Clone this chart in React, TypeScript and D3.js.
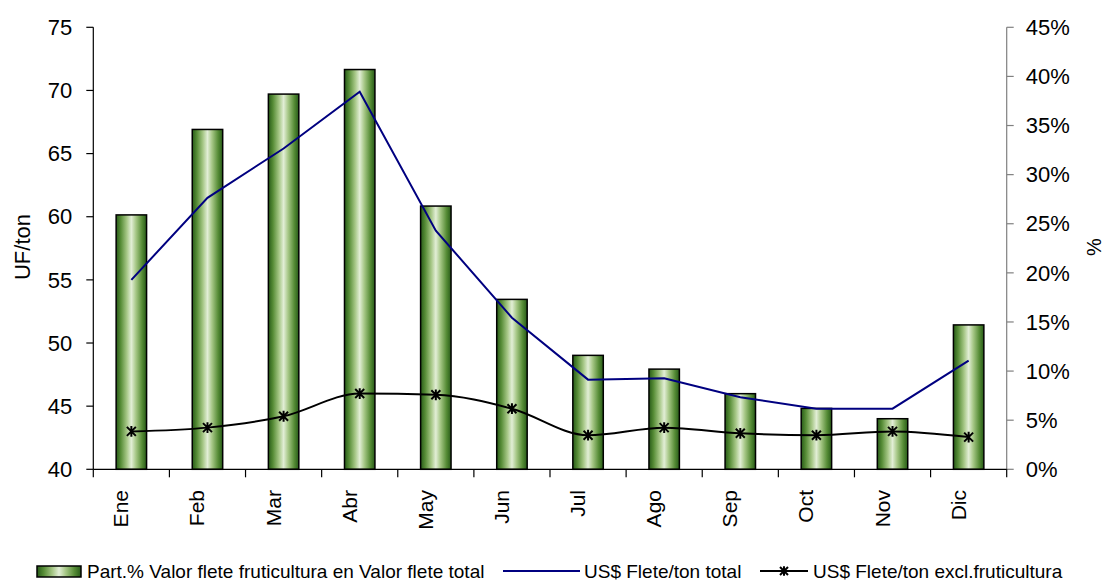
import { useEffect, useRef } from "react";
import * as d3 from "d3";

const months = ["Ene", "Feb", "Mar", "Abr", "May", "Jun", "Jul", "Ago", "Sep", "Oct", "Nov", "Dic"];
// Part.% (right axis, %)
const partPct = [25.9, 34.6, 38.2, 40.7, 26.8, 17.3, 11.6, 10.2, 7.7, 6.2, 5.15, 14.7];
// left axis, UF/ton
const fleteTotal = [55.0, 61.5, 65.4, 69.9, 58.9, 52.0, 47.1, 47.2, 45.7, 44.8, 44.8, 48.6];
const fleteExcl = [43.0, 43.3, 44.2, 46.0, 45.9, 44.8, 42.7, 43.3, 42.85, 42.7, 43.0, 42.55];
const leftTicks = [40, 45, 50, 55, 60, 65, 70, 75];
const rightTicks = [0, 5, 10, 15, 20, 25, 30, 35, 40, 45];

const W = 1106;
const H = 582;
const FONT = "'Liberation Sans', Arial, sans-serif";

export default function App() {
  const svgRef = useRef<SVGSVGElement | null>(null);

  useEffect(() => {
    if (!svgRef.current) return;
    const svg = d3.select(svgRef.current);
    svg.selectAll("*").remove();

    const left = 93.3;
    const right = 1006.7;
    const top = 27.3;
    const bottom = 469.3;

    const x = d3.scaleBand<string>().domain(months).range([left, right]).paddingInner(0).paddingOuter(0);
    const yL = d3.scaleLinear().domain([40, 75]).range([bottom, top]);
    const yR = d3.scaleLinear().domain([0, 45]).range([bottom, top]);
    const bw = x.bandwidth() * 0.4;
    const cx = (m: string) => (x(m) as number) + x.bandwidth() / 2;

    const defs = svg.append("defs");
    const grad = defs.append("linearGradient").attr("id", "barGrad").attr("x1", 0).attr("x2", 1).attr("y1", 0).attr("y2", 0);
    [
      [0, "#275a18"],
      [0.15, "#568c36"],
      [0.35, "#a6c786"],
      [0.5, "#e2eed6"],
      [0.65, "#a6c786"],
      [0.85, "#568c36"],
      [1, "#275a18"],
    ].forEach(([o, c]) => grad.append("stop").attr("offset", o as number).attr("stop-color", c as string));

    // bars
    svg
      .append("g")
      .selectAll("rect")
      .data(months)
      .join("rect")
      .attr("x", (m) => cx(m) - bw / 2)
      .attr("width", bw)
      .attr("y", (_, i) => yR(partPct[i]))
      .attr("height", (_, i) => bottom - yR(partPct[i]))
      .attr("fill", "url(#barGrad)")
      .attr("stroke", "#000")
      .attr("stroke-width", 1.5);

    // blue line
    const lineTotal = d3
      .line<number>()
      .x((_, i) => cx(months[i]))
      .y((d) => yL(d));
    svg
      .append("path")
      .attr("d", lineTotal(fleteTotal)!)
      .attr("fill", "none")
      .attr("stroke", "#000080")
      .attr("stroke-width", 2);

    // black smoothed line
    const lineExcl = d3
      .line<number>()
      .x((_, i) => cx(months[i]))
      .y((d) => yL(d))
      .curve(d3.curveMonotoneX);
    svg
      .append("path")
      .attr("d", lineExcl(fleteExcl)!)
      .attr("fill", "none")
      .attr("stroke", "#000")
      .attr("stroke-width", 2);

    const star = (g: any, px: number, py: number, r: number) => {
      const p = `M${px - r},${py - r}L${px + r},${py + r}M${px - r},${py + r}L${px + r},${py - r}M${px},${py - r * 1.2}L${px},${py + r * 1.2}`;
      g.append("path").attr("d", p).attr("stroke", "#000").attr("stroke-width", 2).attr("fill", "none");
    };
    const markers = svg.append("g");
    fleteExcl.forEach((v, i) => star(markers, cx(months[i]), yL(v), 4.5));

    // left axis
    const gL = svg.append("g").attr("transform", `translate(${left},0)`);
    gL.append("line").attr("y1", top).attr("y2", bottom).attr("stroke", "#000").attr("stroke-width", 1.2);
    leftTicks.forEach((t) => {
      gL.append("line").attr("x1", -7).attr("x2", 0).attr("y1", yL(t)).attr("y2", yL(t)).attr("stroke", "#000").attr("stroke-width", 1.2);
      gL.append("text")
        .attr("x", -21)
        .attr("y", yL(t))
        .attr("dy", "0.35em")
        .attr("text-anchor", "end")
        .attr("font-family", FONT)
        .attr("font-size", 22)
        .attr("fill", "#000")
        .text(t);
    });

    // right axis
    const gR = svg.append("g").attr("transform", `translate(${right},0)`);
    gR.append("line").attr("y1", top).attr("y2", bottom).attr("stroke", "#808080").attr("stroke-width", 1.2);
    rightTicks.forEach((t) => {
      gR.append("line").attr("x1", 0).attr("x2", 7).attr("y1", yR(t)).attr("y2", yR(t)).attr("stroke", "#808080").attr("stroke-width", 1.2);
      gR.append("text")
        .attr("x", 19)
        .attr("y", yR(t))
        .attr("dy", "0.35em")
        .attr("font-family", FONT)
        .attr("font-size", 22)
        .attr("fill", "#000")
        .text(`${t}%`);
    });

    // x axis
    const gX = svg.append("g");
    gX.append("line").attr("x1", left).attr("x2", right).attr("y1", bottom).attr("y2", bottom).attr("stroke", "#000").attr("stroke-width", 1.2);
    d3.range(months.length + 1).forEach((i) => {
      const xx = left + i * x.bandwidth();
      gX.append("line").attr("x1", xx).attr("x2", xx).attr("y1", bottom).attr("y2", bottom + 8).attr("stroke", "#000").attr("stroke-width", 1.2);
    });
    months.forEach((m) => {
      gX.append("text")
        .attr("transform", `translate(${cx(m) - 3},490) rotate(-90)`)
        .attr("text-anchor", "end")
        .attr("font-family", FONT)
        .attr("font-size", 21)
        .attr("fill", "#000")
        .text(m);
    });

    // axis titles
    svg
      .append("text")
      .attr("transform", `translate(30,247) rotate(-90)`)
      .attr("text-anchor", "middle")
      .attr("font-family", FONT)
      .attr("font-size", 22)
      .text("UF/ton");
    svg
      .append("text")
      .attr("transform", `translate(1101,247) rotate(-90)`)
      .attr("text-anchor", "middle")
      .attr("font-family", FONT)
      .attr("font-size", 20)
      .text("%");

    // legend
    const lg = svg.append("g").attr("font-family", FONT).attr("font-size", 19).attr("fill", "#000");
    const ly = 571;
    lg.append("rect").attr("x", 37).attr("y", ly - 5).attr("width", 44).attr("height", 11).attr("fill", "url(#barGrad)").attr("stroke", "#000").attr("stroke-width", 1.5);
    lg.append("text").attr("x", 87).attr("y", ly).attr("dy", "0.35em").text("Part.% Valor flete fruticultura en Valor flete total");
    lg.append("line").attr("x1", 503).attr("x2", 580).attr("y1", ly).attr("y2", ly).attr("stroke", "#000080").attr("stroke-width", 2);
    lg.append("text").attr("x", 584).attr("y", ly).attr("dy", "0.35em").text("US$ Flete/ton total");
    lg.append("line").attr("x1", 760).attr("x2", 808).attr("y1", ly).attr("y2", ly).attr("stroke", "#000").attr("stroke-width", 2);
    star(lg, 784, ly, 4);
    lg.append("text").attr("x", 813).attr("y", ly).attr("dy", "0.35em").text("US$ Flete/ton excl.fruticultura");
  }, []);

  return (
    <div style={{ position: "absolute", left: 0, top: 0 }}>
      <svg ref={svgRef} width={W} height={H} style={{ display: "block", background: "#fff" }} />
    </div>
  );
}
